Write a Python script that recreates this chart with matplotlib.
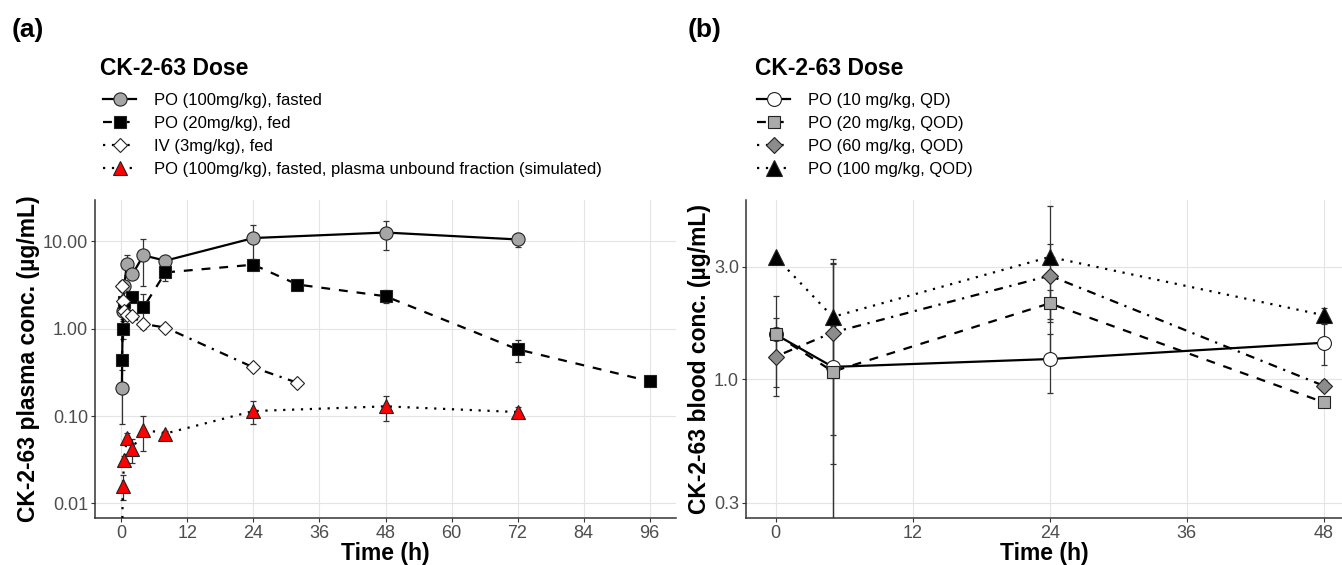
import matplotlib
matplotlib.use("Agg")
import matplotlib.pyplot as plt
from matplotlib.lines import Line2D
from matplotlib.ticker import NullLocator
import numpy as np

plt.rcParams['font.family'] = ['Liberation Sans', 'DejaVu Sans']

# ---- panel (a): plasma concentrations ----
a_circ_t = [0.083, 0.25, 0.5, 1, 2, 4, 8, 24, 48, 72]
a_circ_y = [0.21, 1.6, 3.1, 5.5, 4.2, 6.9, 6.0, 10.9, 12.6, 10.5]
a_circ_sd = [0.13, 0.3, 0.3, 1.4, 0.5, 3.8, 0.6, 4.6, 4.6, 1.9]

a_sq_t = [0.083, 0.25, 0.5, 2, 4, 8, 24, 32, 48, 72, 96]
a_sq_y = [0.44, 1.0, 2.0, 2.3, 1.75, 4.4, 5.4, 3.2, 2.35, 0.58, 0.25]
a_sq_sd = [0.05, 0.23, 0.3, 0.2, 0.75, 0.9, 0.5, 0.3, 0.4, 0.17, 0.02]

a_dia_t = [0.083, 0.25, 0.5, 1, 2, 4, 8, 24, 32]
a_dia_y = [3.1, 2.1, 1.6, 1.45, 1.38, 1.13, 1.03, 0.36, 0.24]
a_dia_sd = [0, 0, 0, 0, 0, 0, 0, 0, 0]

a_tri_t = [0.083, 0.25, 0.5, 1, 2, 4, 8, 24, 48, 72]
a_tri_y = [0.0021, 0.016, 0.031, 0.056, 0.042, 0.070, 0.063, 0.114, 0.129, 0.111]
a_tri_sd = [0.0, 0.005, 0.004, 0.008, 0.013, 0.03, 0.005, 0.033, 0.041, 0.016]

a_labels = ["PO (100mg/kg), fasted", "PO (20mg/kg), fed", "IV (3mg/kg), fed",
            "PO (100mg/kg), fasted, plasma unbound fraction (simulated)"]

# ---- panel (b): blood concentrations ----
b_t = [0, 5, 24, 48]
b_circ_y = [1.55, 1.13, 1.22, 1.43]
b_circ_sd = [0.27, 0.55, 0.34, 0.28]
b_sq_y = [1.55, 1.08, 2.1, 0.80]
b_sq_sd = [0.7, 2.0, 0.3, 0.03]
b_dia_y = [1.25, 1.58, 2.75, 0.94]
b_dia_sd = [0.32, 1.52, 1.0, 0.05]
b_tri_y = [3.3, 1.84, 3.3, 1.87]
b_tri_sd = [0.0, 1.40, 2.1, 0.13]

b_labels = ["PO (10 mg/kg, QD)", "PO (20 mg/kg, QOD)", "PO (60 mg/kg, QOD)",
            "PO (100 mg/kg, QOD)"]

DASHED = (0, (4, 4))
DOTTED = (0, (1, 3))
DOTDASH = (0, (1, 3, 4, 3))
LW = 1.6
EC = '#222222'
W, H = 1342, 565


def series(ax, t, y, sd, ls, marker, fc, ms):
    t = np.array(t); y = np.array(y); sd = np.array(sd)
    lo = np.maximum(y - sd, 1e-5)
    ax.errorbar(t, y, yerr=[y - lo, sd], fmt='none', ecolor='#333333',
                elinewidth=0.9, capsize=2.5, capthick=0.9, zorder=2)
    ax.plot(t, y, color='black', lw=LW, ls=ls, zorder=3)
    ax.plot(t, y, ls='none', marker=marker, mfc=fc, mec=EC, mew=0.8,
            ms=ms, zorder=4)
    return Line2D([], [], color='black', lw=LW, ls=ls, marker=marker,
                  mfc=fc, mec=EC, mew=0.8, ms=ms)


def style(ax):
    for s in ['top', 'right']:
        ax.spines[s].set_visible(False)
    for s in ['left', 'bottom']:
        ax.spines[s].set_color('#333333')
        ax.spines[s].set_linewidth(1.1)
    ax.tick_params(direction='out', length=3, width=0.8, color='#333333',
                   labelcolor='#4D4D4D', labelsize=13, pad=2)
    ax.yaxis.set_minor_locator(NullLocator())
    ax.grid(True, color='#e4e4e4', lw=0.8, zorder=0)
    ax.set_axisbelow(True)
    ax.set_xlabel('Time (h)', fontsize=16.5, fontweight='bold', labelpad=0)


def legend(ax, handles, labels, x_title, x_keys):
    fig.text(x_title / W, 1 - 68 / H, 'CK-2-63 Dose', fontsize=16.5,
             fontweight='bold', va='center', ha='left')
    ax.legend(handles, labels, loc='upper left',
              bbox_to_anchor=(x_keys / W, 1 - 93 / H), bbox_transform=fig.transFigure,
              frameon=False, fontsize=12, handlelength=2.0, handletextpad=1.05,
              labelspacing=0.48, borderpad=0, borderaxespad=0)


fig = plt.figure(figsize=(W / 100, H / 100), dpi=100)
axA = fig.add_axes([95 / W, 47 / H, (676 - 95) / W, 318 / H])
axB = fig.add_axes([746 / W, 47 / H, (W - 746) / W, 318 / H])

# panel a
axA.set_yscale('log')
hA = [series(axA, a_circ_t, a_circ_y, a_circ_sd, '-', 'o', '#A6A6A6', 9.5),
      series(axA, a_sq_t, a_sq_y, a_sq_sd, DASHED, 's', 'black', 8.0),
      series(axA, a_dia_t, a_dia_y, a_dia_sd, DOTDASH, 'D', 'white', 7.0),
      series(axA, a_tri_t, a_tri_y, a_tri_sd, DOTTED, '^', '#FF0000', 10)]
axA.set_xlim(-4.8, 100.8)
axA.set_ylim(0.0068, 29.7)
axA.set_xticks(np.arange(0, 97, 12))
axA.set_yticks([0.01, 0.1, 1, 10], ['0.01', '0.10', '1.00', '10.00'])
style(axA)
axA.set_ylabel('CK-2-63 plasma conc. (µg/mL)', fontsize=16.5,
               fontweight='bold', labelpad=2)
legend(axA, hA, a_labels, 100, 103)

# panel b
axB.set_yscale('log')
hB = [series(axB, b_t, b_circ_y, b_circ_sd, '-', 'o', 'white', 10),
      series(axB, b_t, b_sq_y, b_sq_sd, DASHED, 's', '#AAAAAA', 8.6),
      series(axB, b_t, b_dia_y, b_dia_sd, DOTDASH, 'D', '#8C8C8C', 8.5),
      series(axB, b_t, b_tri_y, b_tri_sd, DOTTED, '^', 'black', 11.5)]
axB.set_xlim(-2.6, 49.6)
axB.set_ylim(0.259, 5.75)
axB.set_xticks([0, 12, 24, 36, 48])
axB.set_yticks([0.3, 1, 3], ['0.3', '1.0', '3.0'])
style(axB)
axB.set_ylabel('CK-2-63 blood conc. (µg/mL)', fontsize=16.5,
               fontweight='bold', labelpad=2)
legend(axB, hB, b_labels, 755, 757)

fig.text(12 / W, 1 - 30 / H, '(a)', fontsize=19, fontweight='bold', va='center')
fig.text(688 / W, 1 - 30 / H, '(b)', fontsize=19, fontweight='bold', va='center')

fig.savefig('out.png', dpi=100)
